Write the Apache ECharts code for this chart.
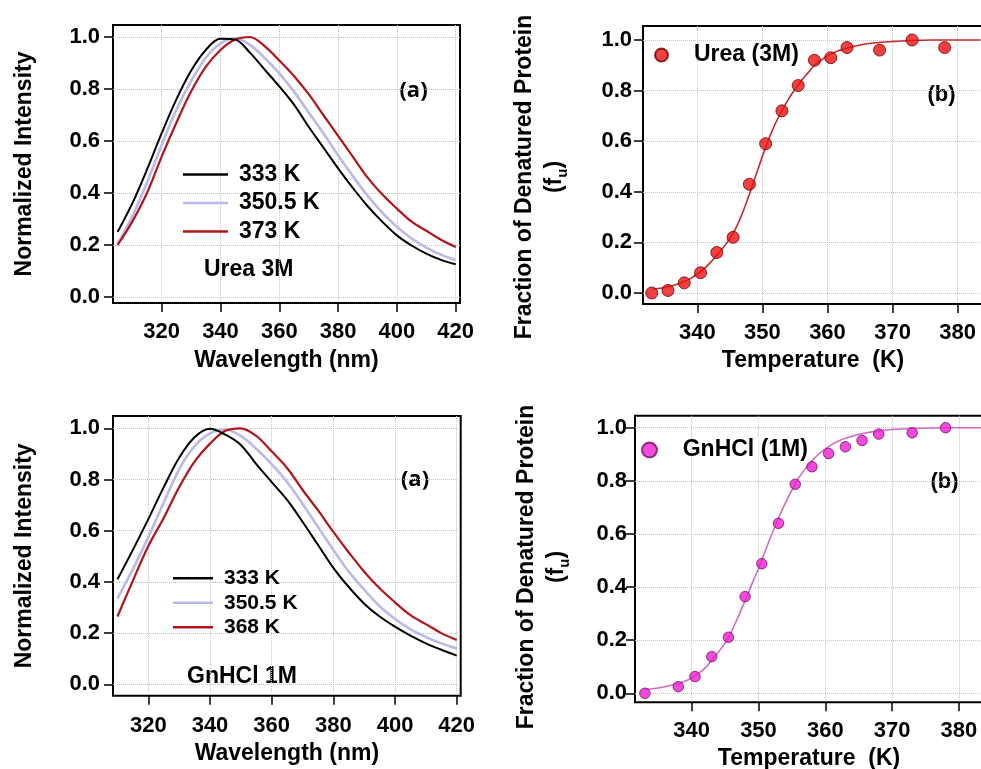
<!DOCTYPE html>
<html>
<head>
<meta charset="utf-8">
<script src="https://cdn.jsdelivr.net/npm/echarts@6/dist/echarts.min.js"></script>
<style>html,body{margin:0;padding:0;background:#fff}#c{width:981px;height:769px}</style>
</head>
<body>
<div id="c"></div>
<script>
// ---- Data ----
const wlUrea = [305,310,315,320,325,330,335,340,345,350,355,360,365,370,375,380,385,390,395,400,405,410,415,420];
const urea333 = [0.25,0.36,0.49,0.63,0.76,0.87,0.95,0.993,0.99,0.94,0.875,0.81,0.74,0.655,0.575,0.495,0.42,0.35,0.29,0.237,0.198,0.167,0.143,0.126];
const urea3505 = [0.205,0.31,0.44,0.585,0.72,0.83,0.92,0.975,0.995,0.97,0.92,0.86,0.79,0.71,0.63,0.545,0.465,0.39,0.325,0.27,0.225,0.19,0.163,0.142];
const urea373 = [0.2,0.29,0.40,0.54,0.67,0.79,0.885,0.95,0.99,1.0,0.965,0.91,0.85,0.78,0.70,0.62,0.54,0.46,0.395,0.34,0.29,0.255,0.22,0.192];

const wlGn = [310,315,320,325,330,335,340,345,350,355,360,365,370,375,380,385,390,395,400,405,410,415,420];
const gn333 = [0.41,0.525,0.645,0.77,0.885,0.965,0.998,0.975,0.935,0.86,0.79,0.72,0.635,0.545,0.455,0.38,0.315,0.265,0.225,0.19,0.16,0.135,0.112];
const gn3505 = [0.335,0.45,0.575,0.71,0.84,0.93,0.98,0.995,0.97,0.92,0.86,0.79,0.705,0.615,0.525,0.44,0.37,0.305,0.255,0.215,0.185,0.16,0.14];
const gn368 = [0.265,0.405,0.54,0.65,0.77,0.87,0.94,0.99,1.0,0.97,0.91,0.845,0.76,0.68,0.595,0.515,0.44,0.375,0.32,0.27,0.235,0.2,0.173];

const ureaT = [333,335.5,338,340.5,343,345.5,348,350.5,353,355.5,358,360.5,363,368,373,378];
const ureaFu = [0.0,0.01,0.04,0.08,0.16,0.22,0.43,0.59,0.72,0.82,0.92,0.93,0.97,0.96,1.0,0.97];
const ureaFitT = [333,334,335,336,337,338,339,340,341,342,343,344,345,346,347,348,349,350,351,352,353,354,355,356,357,358,359,360,361,362,363,365,367,370,373,376,380,383.5];
const ureaFit = [0.015,0.018,0.022,0.028,0.036,0.045,0.058,0.075,0.095,0.12,0.15,0.18,0.215,0.26,0.32,0.39,0.465,0.54,0.61,0.67,0.72,0.765,0.805,0.84,0.87,0.9,0.92,0.937,0.95,0.96,0.968,0.98,0.988,0.994,0.998,1.0,1.0,1.0];

const gnT = [333,338,340.5,343,345.5,348,350.5,353,355.5,358,360.5,363,365.5,368,373,378];
const gnFu = [0.0,0.025,0.063,0.138,0.211,0.364,0.488,0.64,0.787,0.853,0.903,0.928,0.952,0.976,0.981,1.0];
const gnFitT = [333,335,337,339,340,341,342,343,344,345,346,347,348,349,350,351,352,353,354,355,356,357,358,359,360,361,362,363,364,366,368,370,373,376,380,383.5];
const gnFit = [0.015,0.02,0.03,0.045,0.058,0.075,0.095,0.125,0.155,0.19,0.235,0.29,0.35,0.41,0.47,0.535,0.6,0.66,0.715,0.765,0.81,0.845,0.875,0.9,0.92,0.937,0.95,0.96,0.968,0.98,0.988,0.993,0.997,0.999,1.0,1.0];

const wlTicks = [320,340,360,380,400,420];
const tTicks = [340,350,360,370,380];
const fTicks = [0,0.2,0.4,0.6,0.8,1.0];

// ---- Styling ----
const F = '"Liberation Sans", Arial, Helvetica, sans-serif';
const BLACK = '#000000', LAV = '#b9b9ea', RED = '#b3141a';
const grid = (l, t, w, h) => ({left: l, top: t, width: w, height: h, show: true, borderColor: '#000', borderWidth: 2,
  backgroundColor: 'transparent', containLabel: false, outerBoundsMode: 'none'});
const splitL = {show: true, lineStyle: {color: '#c4c4c4', type: 'dotted', width: 1}};
const lbl = (ticks, margin, fmt) => ({customValues: ticks, margin: margin, fontFamily: F, fontWeight: 'bold', fontSize: 22, color: '#000', formatter: fmt});
const tick = (ticks) => ({show: true, inside: false, length: 9, customValues: ticks, lineStyle: {color: '#000', width: 1.5}});
const nameTS = (extra) => Object.assign({fontFamily: F, fontWeight: 'bold', fontSize: 23, color: '#000'}, extra || {});

function xAx(gi, min, max, ticks, name, gap, margin) {
  return {type: 'value', gridIndex: gi, min: min, max: max, name: name, nameLocation: 'middle', nameGap: gap,
    nameTextStyle: nameTS(), axisLine: {show: false, onZero: false}, axisTick: tick(ticks),
    axisLabel: lbl(ticks, margin, v => String(Math.round(v))), splitLine: splitL};
}
function yAx(gi, min, max, name, gap, margin, extra) {
  return {type: 'value', gridIndex: gi, min: min, max: max, name: name, nameLocation: 'middle', nameGap: gap, nameRotate: 90,
    nameTextStyle: nameTS(extra), axisLine: {show: false, onZero: false}, axisTick: tick(fTicks),
    axisLabel: lbl(fTicks, margin, v => v.toFixed(1)), splitLine: splitL};
}
const pairs = (xs, ys) => xs.map((x, i) => [x, ys[i]]);
const spec = (name, xs, ys, color, width, gi) => ({type: 'line', name: name, xAxisIndex: gi, yAxisIndex: gi,
  data: pairs(xs, ys), symbol: 'none', smooth: 0.35, lineStyle: {color: color, width: width}, itemStyle: {color: color}, silent: true});

const fracName = 'Fraction of Denatured Protein\n(f{sub|u})';
const fracRich = {lineHeight: 30, rich: {sub: {fontFamily: F, fontWeight: 'bold', fontSize: 15, lineHeight: 30, verticalAlign: 'bottom', color: '#000'}}};

const chart = echarts.init(document.getElementById('c'), null, {renderer: 'canvas'});
chart.setOption({
  animation: false,
  backgroundColor: '#ffffff',
  grid: [grid(113, 25, 347, 278), grid(643, 26, 340, 278), grid(113, 416, 347.7, 279.7), grid(635, 415.7, 348, 286.6)],
  xAxis: [
    xAx(0, 303.44, 421.47, wlTicks, 'Wavelength (nm)', 46, 18),
    xAx(1, 331.66, 383.89, tTicks, 'Temperature  (K)', 45, 18),
    xAx(2, 308.55, 421.29, wlTicks, 'Wavelength (nm)', 46, 19),
    xAx(3, 331.52, 383.6, tTicks, 'Temperature  (K)', 45, 18)
  ],
  yAxis: [
    yAx(0, -0.0231, 1.0462, 'Normalized Intensity', 77, 13),
    yAx(1, -0.0435, 1.0553, fracName, 73, 11, Object.assign({padding: [0, 24, 0, 0]}, fracRich)),
    yAx(2, -0.0445, 1.048, 'Normalized Intensity', 77, 13),
    yAx(3, -0.0339, 1.0452, fracName, 63, 8, Object.assign({padding: [0, 16, 0, 0]}, fracRich))
  ],
  legend: [
    {data: ['333 K', '350.5 K', '373 K'], orient: 'vertical', left: 183, top: 163, padding: 0, icon: 'rect', itemWidth: 45, itemHeight: 2.5, itemGap: 5.5, selectedMode: false,
      textStyle: {fontFamily: F, fontWeight: 'bold', fontSize: 23, lineHeight: 22, color: '#000', padding: [0, 0, 0, 6]}},
    {data: ['Urea (3M)'], orient: 'vertical', left: 654, top: 43.5, padding: 0, itemWidth: 13, itemHeight: 13, icon: 'circle', selectedMode: false,
      textStyle: {fontFamily: F, fontWeight: 'bold', fontSize: 23, lineHeight: 23, color: '#000', padding: [0, 0, 0, 21]}},
    {data: ['333 K', '350.5 K', '368 K'], orient: 'vertical', left: 173, top: 567.8, padding: 0, icon: 'rect', itemWidth: 40, itemHeight: 2.5, itemGap: 3.5, selectedMode: false,
      textStyle: {fontFamily: F, fontWeight: 'bold', fontSize: 21, lineHeight: 21, color: '#000', padding: [0, 0, 0, 6]}},
    {data: ['GnHCl (1M)'], orient: 'vertical', left: 641, top: 438.5, padding: 0, itemWidth: 15, itemHeight: 15, icon: 'circle', selectedMode: false,
      textStyle: {fontFamily: F, fontWeight: 'bold', fontSize: 23, lineHeight: 23, color: '#000', padding: [0, 0, 0, 20.7]}}
  ],
  graphic: [
    {type: 'text', x: 413.5, y: 91, style: {text: '(a)', font: 'bold 22px "Open Sans", sans-serif', fill: '#000', align: 'center', verticalAlign: 'middle'}},
    {type: 'text', x: 204, y: 270, style: {text: 'Urea 3M', font: 'bold 23px ' + F, fill: '#000', align: 'left', verticalAlign: 'middle'}},
    {type: 'text', x: 941.5, y: 95, style: {text: '(b)', font: 'bold 22px ' + F, fill: '#000', align: 'center', verticalAlign: 'middle'}},
    {type: 'text', x: 415, y: 479.3, style: {text: '(a)', font: 'bold 22px "Open Sans", sans-serif', fill: '#000', align: 'center', verticalAlign: 'middle'}},
    {type: 'text', x: 187, y: 676.7, style: {text: 'GnHCl 1M', font: 'bold 23px ' + F, fill: '#000', align: 'left', verticalAlign: 'middle'}},
    {type: 'text', x: 944.5, y: 481.7, style: {text: '(b)', font: 'bold 22px ' + F, fill: '#000', align: 'center', verticalAlign: 'middle'}}
  ],
  series: [
    spec('350.5 K', wlUrea, urea3505, LAV, 2.6, 0),
    spec('373 K', wlUrea, urea373, RED, 2.2, 0),
    spec('333 K', wlUrea, urea333, BLACK, 2, 0),
    {type: 'line', name: 'Urea fit', xAxisIndex: 1, yAxisIndex: 1, data: pairs(ureaFitT, ureaFit), symbol: 'none', smooth: 0.3,
      lineStyle: {color: '#c42a2c', width: 1.6}, silent: true, z: 2},
    {type: 'scatter', name: 'Urea (3M)', xAxisIndex: 1, yAxisIndex: 1, data: pairs(ureaT, ureaFu), symbol: 'circle', symbolSize: 12,
      itemStyle: {color: '#f01212', borderColor: '#6a0000', borderWidth: 1}, z: 3},
    spec('350.5 K', wlGn, gn3505, LAV, 2.6, 2),
    spec('368 K', wlGn, gn368, RED, 2.2, 2),
    spec('333 K', wlGn, gn333, BLACK, 2, 2),
    {type: 'line', name: 'GnHCl fit', xAxisIndex: 3, yAxisIndex: 3, data: pairs(gnFitT, gnFit), symbol: 'none', smooth: 0.3,
      lineStyle: {color: '#d268c8', width: 1.6}, silent: true, z: 2},
    {type: 'scatter', name: 'GnHCl (1M)', xAxisIndex: 3, yAxisIndex: 3, data: pairs(gnT, gnFu), symbol: 'circle', symbolSize: 10.5,
      itemStyle: {color: '#ee1ed2', borderColor: '#70105f', borderWidth: 1}, z: 3}
  ]
});
</script>
</body>
</html>
